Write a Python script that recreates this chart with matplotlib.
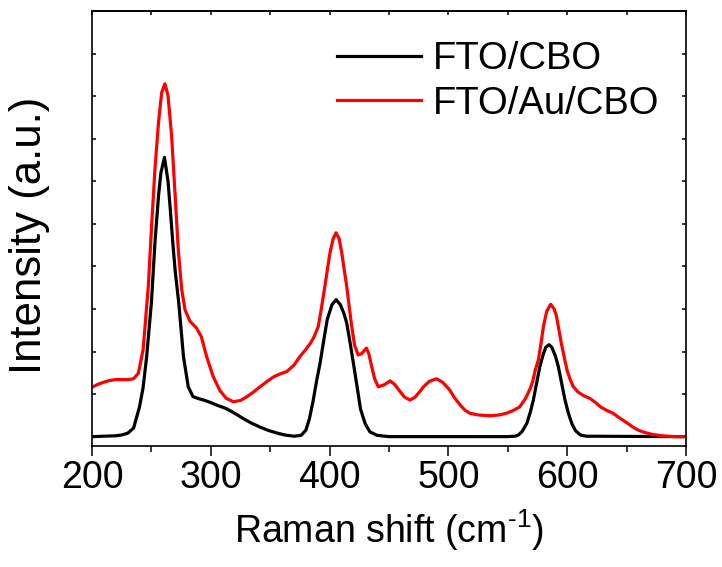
import matplotlib
matplotlib.use("Agg")
import matplotlib.pyplot as plt
from matplotlib.ticker import MultipleLocator

# values (intensity in arbitrary units)
cbo_shift = [200, 210, 220, 225, 230, 235, 240, 243, 246, 250, 253, 256, 258, 261, 264, 266, 268, 270,
             273, 277, 281, 285, 290, 294, 300, 305, 313, 320, 327, 334, 341, 348, 355, 362, 370, 376,
             380, 383, 386, 389, 392, 395, 398, 402, 405.5, 409, 412, 414.4, 417, 420, 423, 426, 430,
             434, 440, 450, 550, 556, 559, 562, 566, 569, 571.5, 574, 577, 580, 582, 584.7, 587, 590,
             592.5, 595, 598, 601, 604, 607, 611, 616, 700]
cbo_intensity = [0.0, 0.01, 0.02, 0.04, 0.08, 0.2, 0.7, 1.15, 1.88, 3.15, 4.56, 5.66, 6.2, 6.56, 6.0, 5.3,
                 4.56, 3.9, 3.15, 1.88, 1.17, 0.94, 0.89, 0.86, 0.8, 0.74, 0.66, 0.55, 0.43, 0.32, 0.23,
                 0.15, 0.09, 0.04, 0.01, 0.03, 0.15, 0.42, 0.82, 1.3, 1.73, 2.25, 2.75, 3.1, 3.22, 3.1,
                 2.9, 2.67, 2.25, 1.73, 1.2, 0.65, 0.3, 0.11, 0.03, 0.0, 0.0, 0.01, 0.04, 0.12, 0.31,
                 0.58, 0.86, 1.22, 1.65, 1.95, 2.1, 2.16, 2.1, 1.9, 1.65, 1.3, 0.88, 0.55, 0.3, 0.14,
                 0.04, 0.01, 0.0]

au_shift = [200, 205, 210, 215, 220, 225, 230, 235, 239, 243, 247.4, 250, 253, 256, 258.7, 261.4, 264,
            267, 270, 272.6, 275.5, 278.3, 282.5, 288, 292, 296.5, 302, 307.7, 313, 319, 325, 330, 336,
            341.4, 347, 352.6, 358, 364, 370, 375, 380, 384, 387, 390.5, 393, 396, 400.3, 403, 405.4,
            408, 410.2, 414.4, 418.6, 421, 424, 427, 431, 433, 435.4, 438, 441, 446, 451, 455, 459.3,
            463, 467.7, 472, 476, 479, 484, 490, 495, 501, 505, 510, 514, 518, 525, 535, 543, 549, 555,
            560, 565, 568.7, 571, 573, 575.7, 578, 580, 582.7, 586.1, 589, 591, 592.5, 595, 598, 600,
            602.4, 605, 609, 614, 619, 624, 628, 633, 638.6, 645, 650, 655, 660, 665, 672, 680, 690, 700]
au_intensity = [1.16, 1.23, 1.28, 1.32, 1.34, 1.34, 1.34, 1.36, 1.49, 2.04, 3.53, 4.87, 6.29, 7.39, 8.09,
                8.29, 8.01, 7.07, 5.66, 4.4, 3.46, 2.98, 2.71, 2.55, 2.35, 1.88, 1.41, 1.08, 0.9, 0.82,
                0.85, 0.93, 1.05, 1.17, 1.29, 1.4, 1.47, 1.53, 1.68, 1.88, 2.05, 2.2, 2.35, 2.59, 3.0,
                3.53, 4.32, 4.65, 4.79, 4.65, 4.32, 3.53, 2.59, 2.15, 1.92, 1.95, 2.08, 1.95, 1.65, 1.35,
                1.17, 1.22, 1.31, 1.22, 1.06, 0.93, 0.86, 0.93, 1.06, 1.17, 1.3, 1.36, 1.28, 1.1, 0.92,
                0.74, 0.62, 0.55, 0.51, 0.49, 0.51, 0.55, 0.62, 0.7, 0.9, 1.12, 1.3, 1.55, 1.8, 2.2,
                2.59, 2.94, 3.11, 3.0, 2.83, 2.59, 2.2, 1.8, 1.55, 1.35, 1.18, 1.05, 0.96, 0.9, 0.8, 0.7,
                0.62, 0.55, 0.42, 0.33, 0.23, 0.15, 0.1, 0.05, 0.02, 0.0, 0.0]

plt.rcParams['font.family'] = ['Liberation Sans', 'DejaVu Sans']
plt.rcParams['mathtext.fontset'] = 'custom'
plt.rcParams['mathtext.rm'] = 'Liberation Sans'
plt.rcParams['mathtext.default'] = 'regular'

fig = plt.figure(figsize=(7.22, 5.67), dpi=100)
ax = fig.add_axes([92 / 722, 1 - 446 / 567, 594 / 722, 435 / 567])

ax.plot(cbo_shift, cbo_intensity, color="black", linewidth=2.3, label="FTO/CBO")
ax.plot(au_shift, au_intensity, color="#ff0000", linewidth=2.3, label="FTO/Au/CBO")

ax.set_xlim(200, 700)
ax.set_ylim(-0.22, 10)
ax.xaxis.set_major_locator(MultipleLocator(100))
ax.xaxis.set_minor_locator(MultipleLocator(50))
ax.yaxis.set_major_locator(MultipleLocator(1))
ax.set_yticklabels([])

for s in ax.spines.values():
    s.set_linewidth(1.2)

ax.tick_params(axis="x", which="major", direction="out", length=7, width=1.1,
               labelsize=27, pad=3, top=False)
ax.tick_params(axis="x", which="minor", direction="out", length=4, width=1.1, top=False)
ax.tick_params(axis="y", which="major", direction="in", length=3, width=1.1,
               left=True, right=True, labelleft=False)

# top axis with inward ticks every 50
top = ax.secondary_xaxis("top")
top.xaxis.set_major_locator(MultipleLocator(50))
top.tick_params(direction="in", length=3, width=1.1, labeltop=False)
top.spines["top"].set_linewidth(1.2)

ax.set_xlabel("Raman shift (cm$^{\\text{-}1}$)", fontsize=27, labelpad=8)
ax.set_ylabel("Intensity (a.u.)", fontsize=31.5)
ax.yaxis.set_label_coords(-0.07, 0.485)

ax.legend(loc="upper left", bbox_to_anchor=(0.4125, 0.93), frameon=False, fontsize=27.5,
          borderpad=0, borderaxespad=0, handlelength=2.2, handletextpad=0.32, labelspacing=0.22)

fig.savefig("out.png", dpi=100)
